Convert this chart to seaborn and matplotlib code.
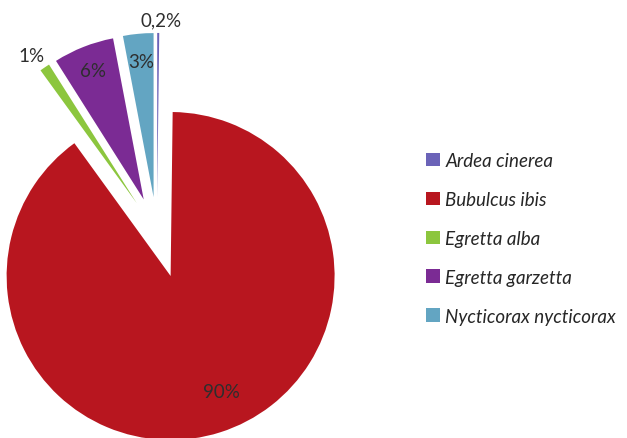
import numpy as np
import seaborn as sns
import matplotlib
matplotlib.use("Agg")
import matplotlib.pyplot as plt

##
# data
##
species = ['Ardea cinerea', 'Bubulcus ibis', 'Egretta alba',
           'Egretta garzetta', 'Nycticorax nycticorax']
shares = [0.2, 90, 1, 6, 3]
colors = ['#6b63b8', '#b8161f', '#8cc63e', '#7b2b94', '#63a5c2']

# style only
explode = [0.22, 0.275, 0.22, 0.22, 0.22]
label_dist = [1.08, 0.77, 1.06, 0.845, 0.83]
label_turn = [-1, 6, -2, 0, 0]  # degrees
label_ha = ['center', 'center', 'right', 'center', 'center']

sns.set_style("white")
plt.rcParams['font.family'] = ['Lato', 'DejaVu Sans']

fig = plt.figure(figsize=(6.27, 4.39), dpi=100)
ax = fig.add_axes([0, 0, 1, 1])

wedges, texts = ax.pie(shares, colors=colors, explode=explode, startangle=90,
                       counterclock=False, radius=1,
                       wedgeprops={'linewidth': 0})

# percentage labels, placed along each wedge's middle angle
for w, d, turn, ha, v in zip(wedges, label_dist, label_turn, label_ha, shares):
    mid = np.deg2rad((w.theta1 + w.theta2) / 2 + turn)
    cx, cy = w.center
    ax.text(cx + d * np.cos(mid), cy + d * np.sin(mid),
            f"{v:g}%".replace('.', ','), ha=ha, va='center',
            fontsize=13.5, color='#2e2e2e')

ax.set_aspect('equal')
ax.set_xlim(-0.957, 2.866)
ax.set_ylim(-1.25, 1.427)
ax.axis('off')

leg = fig.legend(wedges, species, loc='center left',
                 bbox_to_anchor=(0.653, 0.455), frameon=False,
                 prop={'style': 'italic', 'size': 13.5},
                 handlelength=0.72, handleheight=0.72, handletextpad=0.3,
                 labelspacing=1.17)
for t in leg.get_texts():
    t.set_color('#262626')

fig.savefig('out.png', dpi=100)
